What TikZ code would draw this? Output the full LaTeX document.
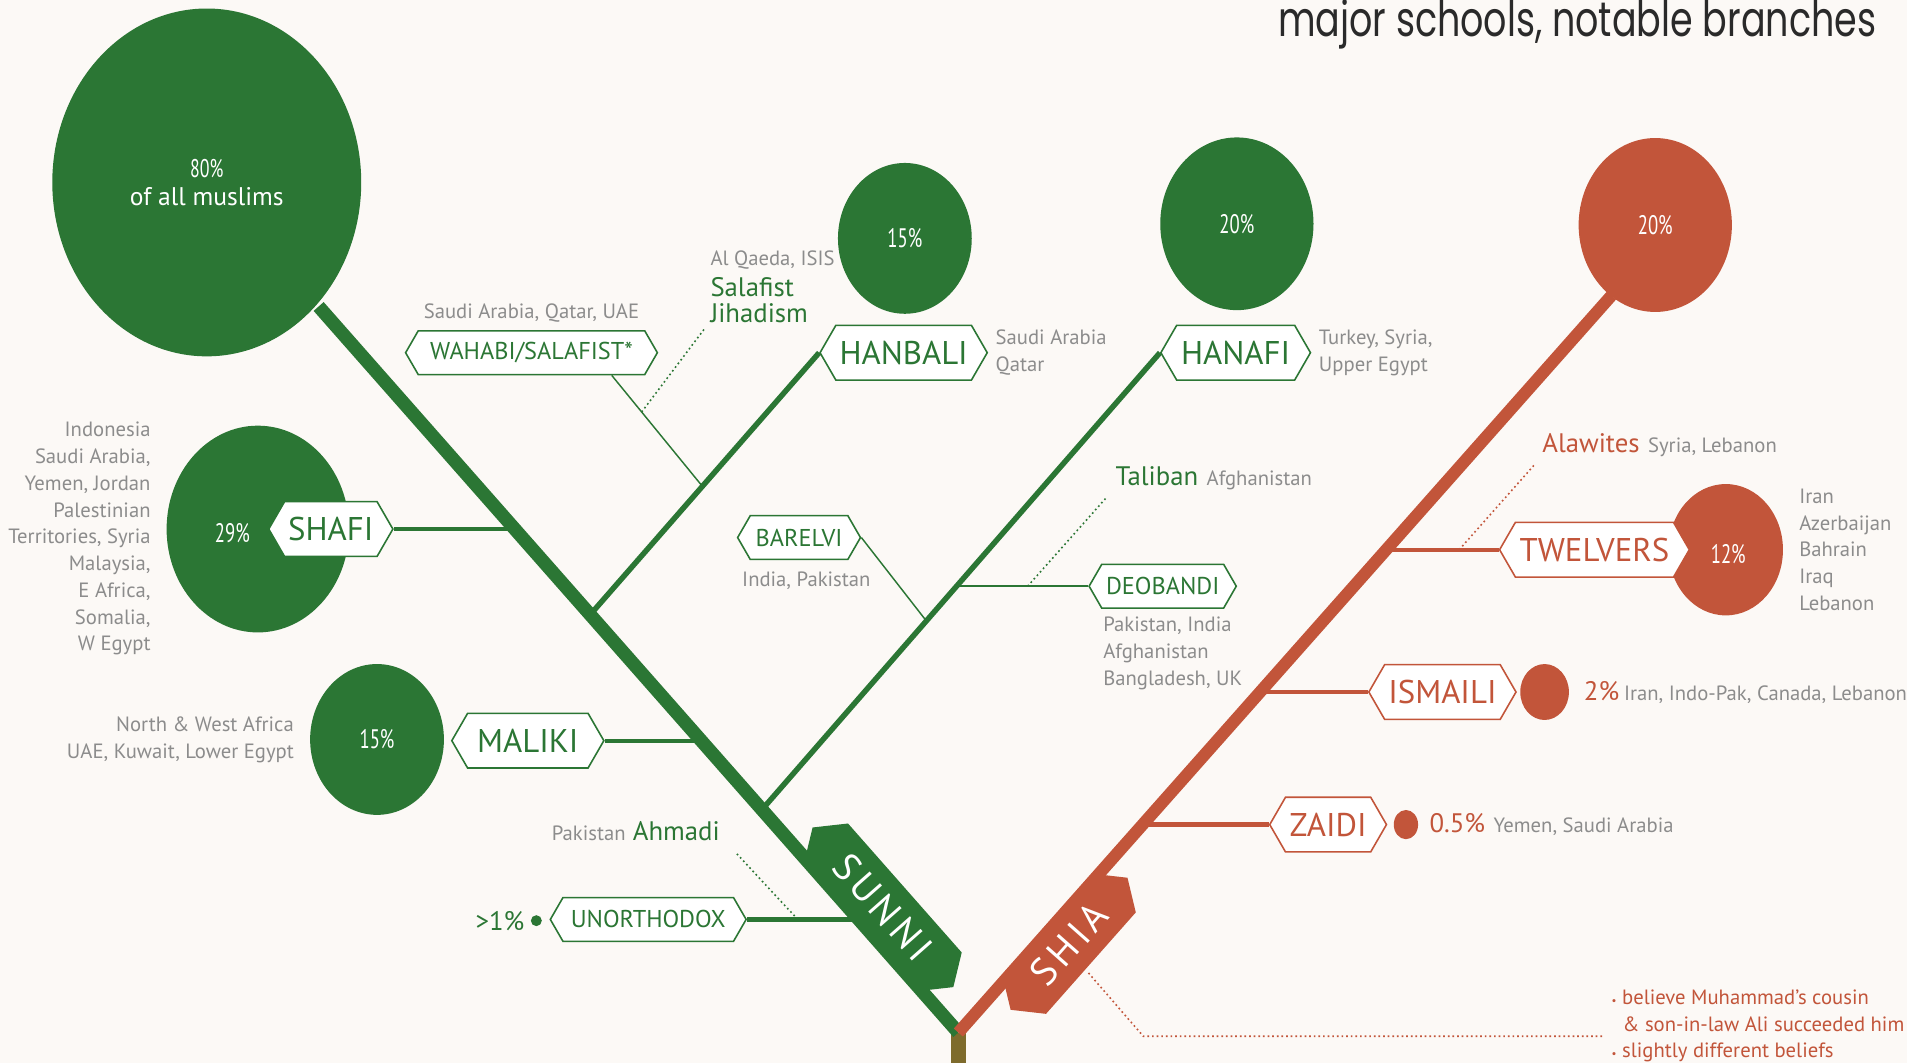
\documentclass[tikz,border=0pt]{standalone}
\usepackage{fontspec}
\setmainfont{PT Sans}
\newfontfamily\titlefont[FakeStretch=0.75]{Poppins}
\newfontfamily\pctfont[FakeStretch=0.7]{PT Sans}
\usepackage{xcolor}
\usetikzlibrary{positioning, calc, shapes.symbols, shapes.geometric}
\definecolor{paper}{HTML}{FCF9F6}
\definecolor{sunni}{HTML}{2B7634}
\definecolor{shia}{HTML}{C2553A}
\definecolor{note}{HTML}{8C8C8C}
\definecolor{stem}{HTML}{7E6B2C}
\definecolor{ink}{HTML}{2A2A2A}

\tikzset{
  school/.style={signal, signal to=east and west, signal pointer angle=120,
    draw, fill=white, line width=1.3pt, inner xsep=3pt, inner ysep=0pt,
    minimum height=45pt, font=\fontsize{27}{27}\selectfont},
  sect/.style={school, minimum height=36pt, font=\fontsize{20}{20}\selectfont},
  blob/.style={ellipse, fill=#1, inner sep=0pt, text=white,
    font=\pctfont\fontsize{22}{22}\selectfont},
  pct/.style={text=white, inner sep=0pt, font=\pctfont\fontsize{22}{22}\selectfont},
  info/.style={text=note, inner sep=0pt, font=\fontsize{17}{22}\selectfont},
  key/.style={text=#1, inner sep=0pt, font=\fontsize{22}{21}\selectfont},
  banner/.style={signal, signal to=east and west, signal pointer angle=110,
    minimum width=#1, minimum height=48pt, inner sep=0pt, text=white,
    font=\fontsize{32}{32}\selectfont\addfontfeatures{LetterSpace=12}},
  bough/.style={line width=4.5pt},
  twig/.style={line width=3.5pt},
  sprig/.style={line width=1.2pt},
  dots/.style={line width=1.3pt, dash pattern=on 1.4pt off 2.4pt},
}
\newcommand{\keyword}[2]{\textcolor{#1}{\fontsize{22}{22}\selectfont #2}}
\newcommand{\where}[1]{\textcolor{note}{\fontsize{17}{17}\selectfont #1}}

\begin{document}
\begin{tikzpicture}[x=1pt, y=-1pt]
  \fill[paper] (0,0) rectangle (1568,874);
  \useasboundingbox (0,0) rectangle (1568,874);
  \clip (0,0) rectangle (1568,874);

  % title
  \node[anchor=base east, text=ink, inner sep=0pt,
        font=\titlefont\fontsize{40}{40}\selectfont] (title) at (1543,30)
        {major schools, notable branches};

  % trunks
  \coordinate (root) at (788,849);
  \coordinate (ground) at (788,880);
  \coordinate (sunnitop) at (262,252);
  \coordinate (shiatop) at (1325,243);
  \draw[stem, line width=12pt] (root) -- (ground);
  \draw[sunni, line width=11pt] (root) -- (sunnitop);
  \draw[shia, line width=10pt] (root) -- (shiatop);

  % junctions
  \coordinate (jshafi) at ($(root)!0.693!(sunnitop)$);
  \coordinate (jhanbali) at ($(root)!0.5755!(sunnitop)$);
  \coordinate (jmaliki) at ($(root)!0.4027!(sunnitop)$);
  \coordinate (jhanafi) at ($(root)!0.307!(sunnitop)$);
  \coordinate (junortho) at ($(root)!0.154!(sunnitop)$);
  \coordinate (jtwelvers) at ($(root)!0.6545!(shiatop)$);
  \coordinate (jismaili) at ($(root)!0.461!(shiatop)$);
  \coordinate (jzaidi) at ($(root)!0.281!(shiatop)$);

  % circles
  \node[blob=sunni, minimum width=254pt, minimum height=286pt, align=center,
        font=\fontsize{21}{23}\selectfont] (sunnicirc) at (170,150)
        {{\pctfont 80\%}\\of all muslims};
  \node[blob=sunni, minimum width=110pt, minimum height=124pt] (hanbalicirc) at (744,196) {15\%};
  \node[blob=sunni, minimum width=126pt, minimum height=142pt] (hanaficirc) at (1017,184) {20\%};
  \node[blob=sunni, minimum width=150pt, minimum height=170pt] (shaficirc) at (212,435) {};
  \node[pct] (shafipct) at (191,438) {29\%};
  \node[blob=sunni, minimum width=110pt, minimum height=124pt] (malikicirc) at (310,608) {15\%};
  \node[blob=shia, minimum width=126pt, minimum height=143pt] (shiacirc) at (1361,185) {20\%};
  \node[blob=shia, minimum width=94pt, minimum height=108pt] (twelvcirc) at (1419,452) {};
  \node[pct] (twelvpct) at (1421,456) {12\%};
  \node[blob=shia, minimum width=40pt, minimum height=46pt] (ismailidot) at (1270,569) {};
  \node[blob=shia, minimum width=20pt, minimum height=24pt] (zaididot) at (1156,678) {};
  \node[blob=sunni, minimum size=9pt] (unorthodot) at (441,757) {};

  % schools and sects
  \node[school, draw=sunni, text=sunni, minimum width=137pt] (hanbali) at (743,290) {HANBALI};
  \node[school, draw=sunni, text=sunni, minimum width=123pt] (hanafi) at (1016,290) {HANAFI};
  \node[school, draw=sunni, text=sunni, minimum width=102pt] (shafi) at (272,435) {SHAFI};
  \node[school, draw=sunni, text=sunni, minimum width=125pt] (maliki) at (434,609) {MALIKI};
  \node[sect, draw=sunni, text=sunni, minimum width=207pt] (wahabi) at (437,290) {WAHABI/SALAFIST*};
  \node[sect, draw=sunni, text=sunni, minimum width=101pt] (barelvi) at (657,442) {BARELVI};
  \node[sect, draw=sunni, text=sunni, minimum width=121pt] (deobandi) at (956,482) {DEOBANDI};
  \node[sect, draw=sunni, text=sunni, minimum width=161pt] (unortho) at (533,756) {UNORTHODOX};
  \node[school, draw=shia, text=shia, minimum width=156pt] (twelvers) at (1311,452) {TWELVERS};
  \node[school, draw=shia, text=shia, minimum width=111pt] (ismaili) at (1186,569) {ISMAILI};
  \node[school, draw=shia, text=shia, minimum width=96pt] (zaidi) at (1092,678) {ZAIDI};

  % branches
  \draw[sunni, bough] (jhanbali) -- (hanbali.west);
  \draw[sunni, bough] (jhanafi) -- (hanafi.west);
  \draw[sunni, twig] (shafi.east) -- (shafi.east -| jshafi);
  \draw[sunni, twig] (maliki.east) -- (maliki.east -| jmaliki);
  \draw[sunni, twig] (unortho.east) -- (unortho.east -| junortho);
  \draw[shia, twig] (twelvers.west) -- (twelvers.west -| jtwelvers);
  \draw[shia, twig] (ismaili.west) -- (ismaili.west -| jismaili);
  \draw[shia, twig] (zaidi.west) -- (zaidi.west -| jzaidi);

  \coordinate (wfoot) at ([xshift=66pt]wahabi.south);
  \coordinate (jwahabi) at ($(jhanbali)!0.49!(hanbali.west)$);
  \coordinate (jbarelvi) at ($(jhanafi)!0.413!(hanafi.west)$);
  \coordinate (jdeobandi) at ($(jhanafi)!0.489!(hanafi.west)$);
  \draw[sunni, sprig] (wfoot) -- (jwahabi);
  \draw[sunni, sprig] (barelvi.east) -- (jbarelvi);
  \draw[sunni, sprig] (deobandi.west -| jdeobandi) -- (deobandi.west);

  % banners
  \node[banner=175pt, fill=sunni, rotate=-48.6] (sunnitag) at (726,746) {SUNNI};
  \node[banner=145pt, fill=shia, rotate=48.5] (shiatag) at (879,776) {SHIA};

  % texts
  \node[info, above=6pt of wahabi] (wahabiinfo) {Saudi Arabia, Qatar, UAE};
  \node[info, anchor=south west] (qaeda) at (584,222) {Al Qaeda, ISIS};
  \node[key=sunni, anchor=north west, align=left] (jihad) at (584,228) {Salafist\\Jihadism};
  \node[info, align=left, right=6pt of hanbali] (hanbaliinfo) {Saudi Arabia\\Qatar};
  \node[info, align=left, right=6pt of hanafi] (hanafiinfo) {Turkey, Syria,\\Upper Egypt};
  \node[info, align=right, anchor=east] (shafiinfo) at (124,443)
    {Indonesia\\Saudi Arabia,\\Yemen, Jordan\\Palestinian\\Territories, Syria\\Malaysia,\\E Africa,\\Somalia,\\W Egypt};
  \node[info, align=right, left=13pt of malikicirc] (malikiinfo) {North \& West Africa\\UAE, Kuwait, Lower Egypt};
  \node[info, below=9pt of barelvi, xshift=6pt] (barelviinfo) {India, Pakistan};
  \node[info, align=left, anchor=north west] (deobandiinfo) at (907,507)
    {Pakistan, India\\Afghanistan\\Bangladesh, UK};
  \node[inner sep=0pt, anchor=west] (taliban) at (917,393)
    {\keyword{sunni}{Taliban}\hspace{7pt}\where{Afghanistan}};
  \node[inner sep=0pt, anchor=east] (ahmadi) at (592,683)
    {\where{Pakistan}\hspace{6pt}\keyword{sunni}{Ahmadi}};
  \node[key=sunni, left=5pt of unorthodot] (unorthopct) {>1\%};
  \node[inner sep=0pt, anchor=west] (alawites) at (1268,366)
    {\keyword{shia}{Alawites}\hspace{7pt}\where{Syria, Lebanon}};
  \node[info, align=left, right=13pt of twelvcirc] (twelvinfo) {Iran\\Azerbaijan\\Bahrain\\Iraq\\Lebanon};
  \node[inner sep=0pt, right=12pt of ismailidot] (ismailiinfo)
    {\keyword{shia}{2\%}\hspace{4pt}\where{Iran, Indo-Pak, Canada, Lebanon}};
  \node[inner sep=0pt, right=9pt of zaididot] (zaidiinfo)
    {\keyword{shia}{0.5\%}\hspace{7pt}\where{Yemen, Saudi Arabia}};
  \node[inner sep=0pt, anchor=north west, align=left, text=shia,
        font=\fontsize{17}{21.5}\selectfont] (shianote) at (1325,814)
    {{\fontsize{9}{9}\selectfont\textbullet}\ believe Muhammad’s cousin\\
     \hspace*{9pt}\& son-in-law Ali succeeded him\\
     {\fontsize{9}{9}\selectfont\textbullet}\ slightly different beliefs};

  % dotted leaders
  \coordinate (jsalafi) at ($(wfoot)!0.33!(jwahabi)$);
  \coordinate (jtaliban) at ($(deobandi.west -| jdeobandi)!0.54!(deobandi.west)$);
  \coordinate (jahmadi) at ($(unortho.east)!0.45!(unortho.east -| junortho)$);
  \coordinate (jalawi) at ($(twelvers.west -| jtwelvers)!0.65!(twelvers.west)$);
  \coordinate (shiafoot) at (895,800);
  \coordinate (notebend) at (940,852);
  \coordinate (notetip) at (1318,852);
  \draw[sunni, dots] (jsalafi) -- ([xshift=-4pt, yshift=-4pt]jihad.south west);
  \draw[sunni, dots] (jtaliban) -- ([xshift=-7pt, yshift=-6pt]taliban.south west);
  \draw[sunni, dots] (jahmadi) -- ([xshift=13pt, yshift=-10pt]ahmadi.south east);
  \draw[shia, dots] (jalawi) -- ([xshift=-6pt, yshift=-6pt]alawites.south west);
  \draw[shia, dots] (shiafoot) -- (notebend) -- (notetip);
\end{tikzpicture}
\end{document}
